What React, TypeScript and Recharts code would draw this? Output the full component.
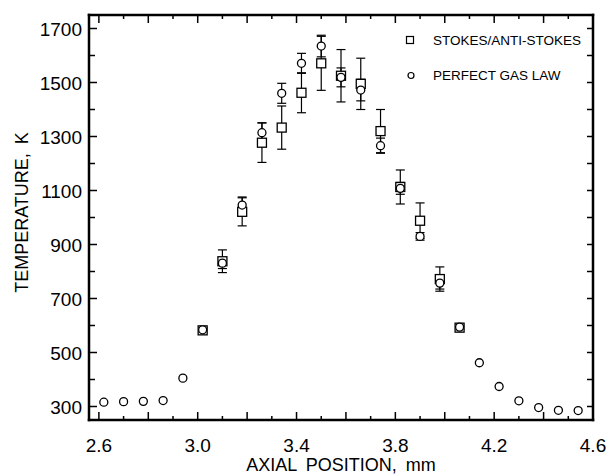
import React from 'react';
import { ScatterChart, Scatter, XAxis, YAxis, ErrorBar, Legend } from 'recharts';

const FONT = '"Liberation Sans", Arial, sans-serif';

// axial positions, mm
const POSITIONS = [
    2.62, 2.70, 2.78, 2.86, 2.94, 3.02, 3.10, 3.18, 3.26, 3.34, 3.42, 3.50, 3.58,
    3.66, 3.74, 3.82, 3.90, 3.98, 4.06, 4.14, 4.22, 4.30, 4.38, 4.46, 4.54,
];
// perfect gas law temperatures, K
const GAS_LAW_T = [
    316, 318, 319, 322, 405, 584, 831, 1046, 1314, 1460, 1571, 1635, 1519,
    1472, 1266, 1108, 930, 757, 594, 462, 374, 321, 296, 286, 285,
];
const GAS_LAW_ERR = [
    0, 0, 0, 0, 0, 8, 20, 30, 37, 37, 37, 40, 35,
    40, 28, 22, 14, 22, 8, 0, 0, 0, 0, 0, 0,
];

// stokes / anti-stokes ratio temperatures, K
const STOKES_POS = [3.02, 3.10, 3.18, 3.26, 3.34, 3.42, 3.50, 3.58, 3.66, 3.74, 3.82, 3.90, 3.98, 4.06];
const STOKES_T = [582, 838, 1021, 1277, 1333, 1462, 1571, 1525, 1495, 1320, 1113, 988, 772, 592];
const STOKES_ERR = [10, 42, 52, 73, 80, 74, 100, 97, 95, 80, 63, 66, 45, 8];

const X_TICKS = [2.6, 2.7, 2.8, 2.9, 3.0, 3.1, 3.2, 3.3, 3.4, 3.5, 3.6, 3.7, 3.8, 3.9, 4.0, 4.1, 4.2, 4.3, 4.4, 4.5, 4.6];
const X_LONG = [2.6, 2.8, 3.0, 3.2, 3.4, 3.6, 3.8, 4.0, 4.2, 4.4, 4.6];
const X_LABELS = [2.6, 3.0, 3.4, 3.8, 4.2, 4.6];
const Y_TICKS = [300, 400, 500, 600, 700, 800, 900, 1000, 1100, 1200, 1300, 1400, 1500, 1600, 1700];
const Y_LABELS = [300, 500, 700, 900, 1100, 1300, 1500, 1700];

const gasData = POSITIONS.map((x, i) => ({ x, y: GAS_LAW_T[i], err: GAS_LAW_ERR[i] }));
const stokesData = STOKES_POS.map((x, i) => ({ x, y: STOKES_T[i], err: STOKES_ERR[i] }));

const has = (list: number[], v: number) => list.some((t) => Math.abs(t - v) < 1e-6);

const BottomTick = ({ x, y, payload }: any) => {
    const v = payload.value;
    return (
        <g>
            <line x1={x} x2={x} y1={y} y2={y - (has(X_LONG, v) ? 8 : 4)} stroke="#000" strokeWidth={1.5} />
            {has(X_LABELS, v) && (
                <text x={x} y={y + 32} textAnchor="middle" fontSize={19} fontFamily={FONT} fill="#000">
                    {v.toFixed(1)}
                </text>
            )}
        </g>
    );
};

const TopTick = ({ x, y, payload }: any) => (
    <line x1={x} x2={x} y1={y} y2={y + (has(X_LONG, payload.value) ? 8 : 4)} stroke="#000" strokeWidth={1.5} />
);

const LeftTick = ({ x, y, payload }: any) => {
    const v = payload.value;
    return (
        <g>
            <line x1={x} x2={x + (has(Y_LABELS, v) ? 8 : 6)} y1={y} y2={y} stroke="#000" strokeWidth={1.5} />
            {has(Y_LABELS, v) && (
                <text x={x - 7} y={y + 7} textAnchor="end" fontSize={19} fontFamily={FONT} fill="#000">
                    {v}
                </text>
            )}
        </g>
    );
};

const RightTick = ({ x, y }: any) => (
    <line x1={x} x2={x - 6} y1={y} y2={y} stroke="#000" strokeWidth={1.5} />
);

const XTitle = ({ viewBox }: any) => (
    <text x={viewBox.x + viewBox.width / 2} y={viewBox.y + 51} textAnchor="middle"
        fontSize={18} fontFamily={FONT} wordSpacing={4} fill="#000">
        AXIAL POSITION, mm
    </text>
);

const YTitle = ({ viewBox }: any) => {
    const cx = viewBox.x + 22;
    const cy = viewBox.y + viewBox.height / 2 - 5;
    return (
        <text x={cx} y={cy} transform={`rotate(-90 ${cx} ${cy})`} textAnchor="middle" dominantBaseline="central"
            fontSize={18} fontFamily={FONT} wordSpacing={4} fill="#000">
            TEMPERATURE, K
        </text>
    );
};

const SquareMark = ({ cx, cy }: any) => (
    <rect x={cx - 4.5} y={cy - 4.5} width={9} height={9} fill="#fff" stroke="#000" strokeWidth={1.3} />
);

const CircleMark = ({ cx, cy }: any) => (
    <circle cx={cx} cy={cy} r={4} fill="#fff" stroke="#000" strokeWidth={1.3} />
);

const LegendBox = () => (
    <svg width={200} height={60}>
        <rect x={2.5} y={6.5} width={7} height={7} fill="#fff" stroke="#000" strokeWidth={1.2} />
        <text x={29} y={15} fontSize={13.5} fontFamily={FONT} fill="#000">STOKES/ANTI-STOKES</text>
        <circle cx={7} cy={45.5} r={3} fill="#fff" stroke="#000" strokeWidth={1.2} />
        <text x={29} y={50} fontSize={13.5} fontFamily={FONT} fill="#000">PERFECT GAS LAW</text>
    </svg>
);

const axisLine = { stroke: '#000', strokeWidth: 2.5, strokeLinecap: 'square' as const };

export default function App() {
    return (
        <div style={{ position: 'absolute', top: 0, left: 0, background: '#fff' }}>
            <ScatterChart width={610} height={474} margin={{ top: 14, right: 16, bottom: 0, left: 0 }}>
                <XAxis xAxisId="bottom" dataKey="x" type="number" domain={[2.56, 4.6]} allowDataOverflow
                    ticks={X_TICKS} interval={0} tickSize={0} tickMargin={0} tick={<BottomTick />}
                    axisLine={axisLine} height={54} label={<XTitle />} />
                <XAxis xAxisId="top" orientation="top" dataKey="x" type="number" domain={[2.56, 4.6]} allowDataOverflow
                    ticks={X_TICKS} interval={0} tickSize={0} tickMargin={0} tick={<TopTick />}
                    axisLine={axisLine} height={1} />
                <YAxis yAxisId="left" dataKey="y" type="number" domain={[250, 1750]} allowDataOverflow
                    ticks={Y_TICKS} interval={0} tickSize={0} tickMargin={0} tick={<LeftTick />}
                    axisLine={axisLine} width={89} label={<YTitle />} />
                <YAxis yAxisId="right" orientation="right" dataKey="y" type="number" domain={[250, 1750]} allowDataOverflow
                    ticks={Y_TICKS} interval={0} tickSize={0} tickMargin={0} tick={<RightTick />}
                    axisLine={axisLine} width={1} />
                <Legend layout="horizontal" verticalAlign="middle" align="center" content={<LegendBox />}
                    wrapperStyle={{ position: 'absolute', top: 30, left: 404, width: 200, height: 60 }} />
                <Scatter name="STOKES/ANTI-STOKES" data={stokesData} xAxisId="top" yAxisId="right"
                    shape={<SquareMark />} isAnimationActive={false}>
                    <ErrorBar dataKey="err" direction="y" width={4.5} stroke="#000" strokeWidth={1.2} isAnimationActive={false} />
                </Scatter>
                <Scatter name="PERFECT GAS LAW" data={gasData} xAxisId="bottom" yAxisId="left"
                    shape={<CircleMark />} isAnimationActive={false}>
                    <ErrorBar dataKey="err" direction="y" width={4.5} stroke="#000" strokeWidth={1.2} isAnimationActive={false} />
                </Scatter>
            </ScatterChart>
        </div>
    );
}
